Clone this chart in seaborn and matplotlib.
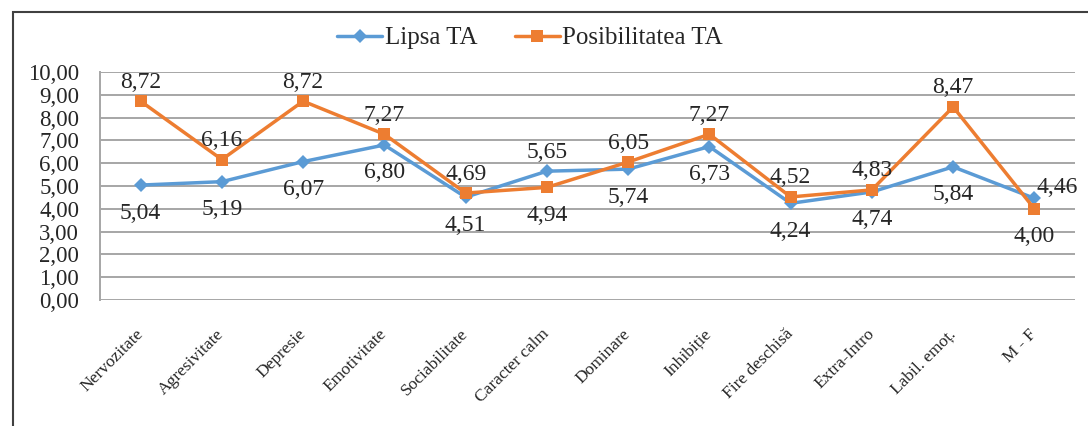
# Profil de personalitate: Lipsa TA vs Posibilitatea TA
import numpy as np
import pandas as pd
import matplotlib.pyplot as plt
from matplotlib.patches import Rectangle
import seaborn as sns

# Date
categorii = ["Nervozitate", "Agresivitate", "Depresie", "Emotivitate", "Sociabilitate",
             "Caracter calm", "Dominare", "Inhibiție", "Fire deschisă", "Extra-Intro",
             "Labil. emoț.", "M - F"]
lipsa_ta = [5.04, 5.19, 6.07, 6.80, 4.51, 5.65, 5.74, 6.73, 4.24, 4.74, 5.84, 4.46]
posibilitatea_ta = [8.72, 6.16, 8.72, 7.27, 4.69, 4.94, 6.05, 7.27, 4.52, 4.83, 8.47, 4.00]
serii = ["Lipsa TA", "Posibilitatea TA"]
y_ticks = [0, 1, 2, 3, 4, 5, 6, 7, 8, 9, 10]

df = pd.DataFrame({
    "categorie": categorii * 2,
    "valoare": lipsa_ta + posibilitatea_ta,
    "serie": [serii[0]] * len(categorii) + [serii[1]] * len(categorii),
})

sns.set_style("white")
plt.rcParams["font.family"] = ["Liberation Serif", "DejaVu Serif"]

albastru = "#5B9BD5"
portocaliu = "#ED7D31"

fig = plt.figure(figsize=(10.88, 4.26), dpi=100)
ax = fig.add_axes([100 / 1088, 1 - 300 / 426, 975 / 1088, 228 / 426])

sns.lineplot(data=df, x="categorie", y="valoare", hue="serie", style="serie",
             palette={serii[0]: albastru, serii[1]: portocaliu},
             markers={serii[0]: "D", serii[1]: "s"}, dashes=False,
             markersize=9, linewidth=2.5, markeredgewidth=0, sort=False, ax=ax)
for ln in ax.lines:
    if ln.get_marker() == "D":
        ln.set_markersize(7.5)

ax.set_xlim(-0.5, len(categorii) - 0.5)
ax.set_ylim(0, 10)
ax.set_yticks(y_ticks)
ax.set_yticklabels([f"{v:.2f}".replace(".", ",") for v in y_ticks], fontsize=16.5)
ax.yaxis.grid(True, color="#A6A6A6", linewidth=1.4)
ax.xaxis.grid(False)
for s in ["top", "right", "bottom"]:
    ax.spines[s].set_visible(False)
ax.spines["left"].set_color("#A6A6A6")
ax.spines["left"].set_linewidth(1.4)
ax.tick_params(axis="y", length=0, pad=15)
ax.tick_params(axis="x", length=0, pad=23)
ax.set_xlabel("")
ax.set_ylabel("")
ax.set_xticks(range(len(categorii)))
ax.set_xticklabels(categorii, rotation=45, ha="right", va="center",
                   rotation_mode="anchor", fontsize=12.5)

# Etichete valori
def eticheta(x, y, dy, dx=0, ha="center"):
    ax.annotate(f"{y:.2f}".replace(".", ","), (x, y), xytext=(dx, dy),
                textcoords="offset pixels", ha=ha, va="center", fontsize=17)

for i, (a, b) in enumerate(zip(lipsa_ta, posibilitatea_ta)):
    if i == len(categorii) - 1:
        eticheta(i, a, 11, dx=2, ha="left")
        eticheta(i, b, -28)
        continue
    if b >= a:
        eticheta(i, b, 19)
        eticheta(i, a, -28)
    else:
        eticheta(i, a, 19)
        eticheta(i, b, -28)

# Legenda
h, l = ax.get_legend_handles_labels()
ax.legend(h, l, loc="center", bbox_to_anchor=(530 / 1088, 1 - 38 / 426),
          bbox_transform=fig.transFigure, ncol=2, frameon=False, fontsize=18,
          handlelength=1.8, handletextpad=0.1, columnspacing=1.5)

# Chenar
fig.patches.append(Rectangle((13 / 1088, -0.1), 1.2, 1 - 12 / 426 + 0.1,
                             transform=fig.transFigure, fill=False,
                             edgecolor="#404040", linewidth=1.5))

fig.savefig("out.png", dpi=100)
